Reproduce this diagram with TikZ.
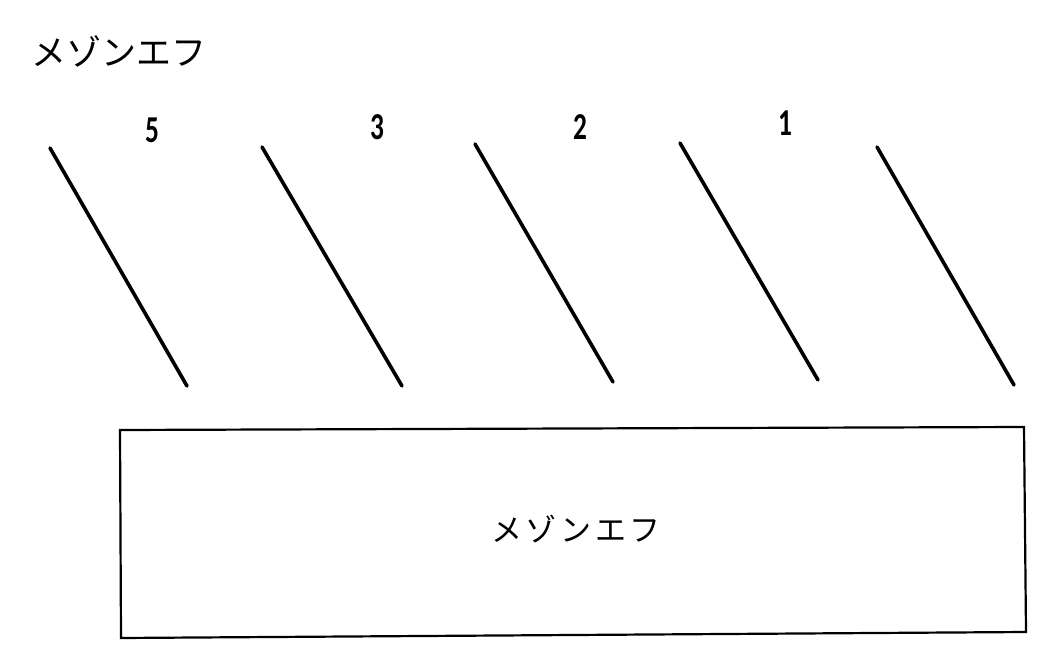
\documentclass[tikz,border=0pt]{standalone}
\usepackage{fontspec}
\newfontfamily\jpfont{Noto Sans CJK JP}
\newfontfamily\numfont{Carlito}
\begin{document}
\begin{tikzpicture}[x=1pt,y=-1pt,
  stroke/.style={line width=3.6pt,line cap=round},
  boxline/.style={line width=2.2pt,line join=miter},
  numlabel/.style={font=\numfont\bfseries\fontsize{38}{38}\selectfont,xscale=0.72,inner sep=0pt},
  title/.style={font=\jpfont\fontsize{35}{35}\selectfont,inner sep=0pt},
  boxtext/.style={font=\jpfont\fontsize{31}{31}\selectfont\addfontfeature{LetterSpace=12},inner sep=0pt}]
\useasboundingbox (0,0) rectangle (1060,668);
\node[title] (ttl) at (119,51) {メゾンエフ};
% diagonal lines
\coordinate (a1) at (50,148);  \coordinate (b1) at (187,386);
\coordinate (a2) at (262,147); \coordinate (b2) at (402,386);
\coordinate (a3) at (475,144); \coordinate (b3) at (613,382);
\coordinate (a4) at (680,143); \coordinate (b4) at (818,380);
\coordinate (a5) at (877,147); \coordinate (b5) at (1014,385);
\foreach \i in {1,...,5} \draw[stroke] (a\i) -- (b\i);
% numbers
\node[numlabel] (n5) at (152,130) {5};
\node[numlabel] (n3) at (377,127) {3};
\node[numlabel] (n2) at (580,127) {2};
\node[numlabel] (n1) at (785,123) {1};
% box
\coordinate (tl) at (120,430);
\coordinate (tr) at (1024,427);
\coordinate (br) at (1026,632);
\coordinate (bl) at (121,638);
\draw[boxline] (tl) -- (tr) -- (br) -- (bl) -- cycle;
\node[boxtext] (bt) at (576,529) {メゾンエフ};
\end{tikzpicture}
\end{document}
